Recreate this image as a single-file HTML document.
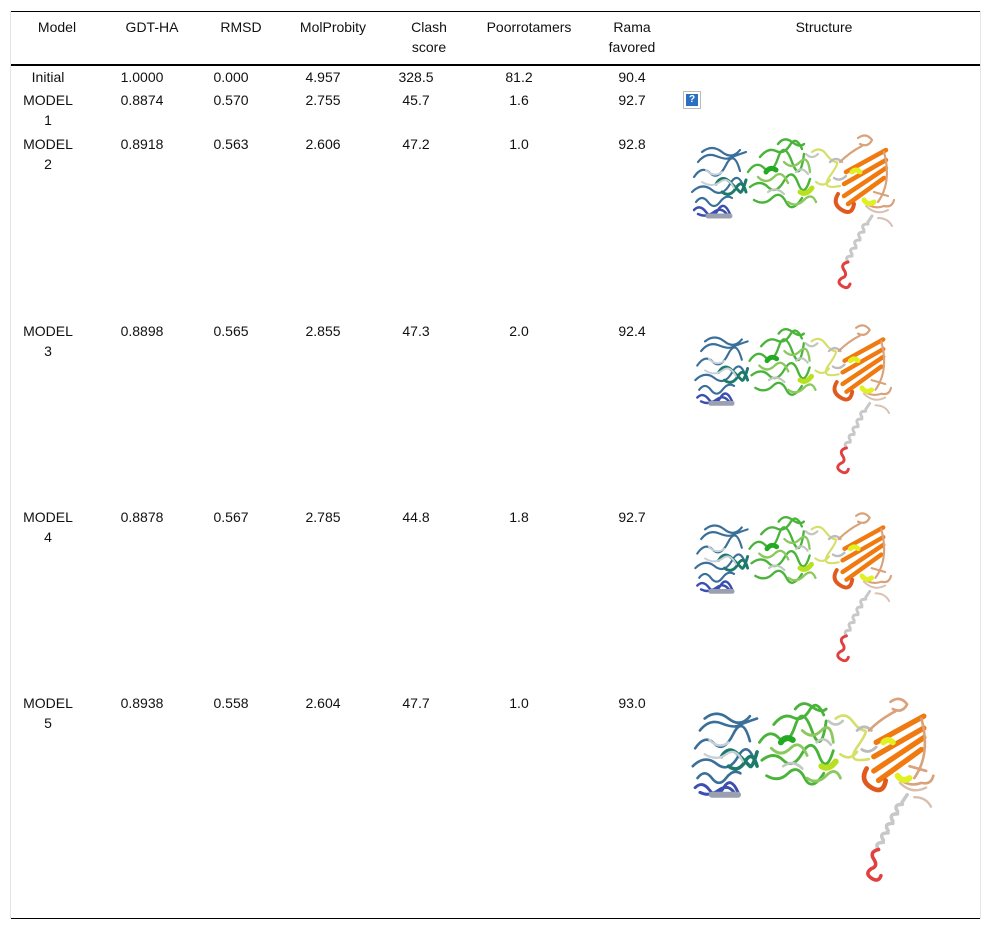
<!DOCTYPE html>
<html><head><meta charset="utf-8">
<style>
body{margin:0;background:#fff;width:992px;height:931px;position:relative;font-family:"Liberation Sans",Arial,sans-serif;font-size:14px;color:#111;overflow:hidden}
.t{position:absolute;transform:translateX(-50%);white-space:nowrap;line-height:20px;text-align:center}
.ln{position:absolute;background:#000}
svg.s{position:absolute}
</style></head><body>
<svg width="0" height="0" style="position:absolute">
<defs>
<symbol id="prot" viewBox="0 0 220 160">
<g fill="none" stroke-linecap="round" stroke-linejoin="round">
<path d="M8 70 q6-8 12 0 t12 0 t12-4 M4 60 q10-10 20-2 t18-6 t14 4 M6 45 q8-12 16-4 t16-8 t14 6 M10 30 q8-10 18-6 t14 2 t16-6 M14 20 q10-8 20 0 t18-2" stroke="#3a6f9a" stroke-width="2.2"/>
<path d="M6 78 q6-6 12 2 t12-2 t12 4 M10 82 q8 4 16-2 t14 4" stroke="#3b4fb0" stroke-width="2.5"/>
<path d="M20 84 h22" stroke="#9aa0b0" stroke-width="5"/>
<path d="M28 52 q6-10 14-2 t10 10 t6-12 M34 60 q8 6 14-4 t10 4" stroke="#1d7a6a" stroke-width="3"/>
<path d="M14 50 q10 6 18 0 t14 6 M18 38 q8 8 16 2" stroke="#c8d0d8" stroke-width="2"/>
<path d="M60 40 q8-12 16-4 t14-10 t14 4 t12-8 M62 55 q10-8 18 0 t16-6 t14 2 t12-4 M66 68 q10 6 18-2 t14 4 t16-4 M72 25 q8-10 16-6 t14-6 t12 4 M90 12 q6-8 14-2 t12 2" stroke="#4ab43a" stroke-width="2.4"/>
<path d="M70 45 q8 8 16 0 t14 6 M96 30 q8 8 16 0 t10 10 M100 70 q8 6 16-2 t12 2" stroke="#8cc860" stroke-width="2.4"/>
<path d="M78 40 q4-6 10-2" stroke="#22aa22" stroke-width="5"/>
<path d="M112 60 q6 4 12-4" stroke="#b8e020" stroke-width="5"/>
<path d="M80 60 q8-6 16 2 M108 40 q6-6 12 2 M118 22 q6 6 12 0" stroke="#c0c8c0" stroke-width="2.2"/>
<path d="M124 20 q8-6 14 2 t10 8 t-6 14 t10 10 M128 50 q8 6 14-2" stroke="#d6df6a" stroke-width="2.2"/>
<path d="M142 30 q6-6 12 0 M146 46 q6 4 12-2" stroke="#bcbcbc" stroke-width="2.4"/>
<path d="M158 40 l40-22 M156 52 l42-24 M156 64 l42-28 M160 72 l36-26" stroke="#f07a10" stroke-width="4.5"/>
<path d="M170 6 q8-6 14 2 q-4 8-12 4 M152 30 q10-10 22-16 M196 20 q8 30-6 50 M176 70 q10 8 20 4 q8 2 10-6 M186 60 l14 4" stroke="#d9a27a" stroke-width="2.2"/>
<path d="M150 62 q-6 10 4 16 t12-6" stroke="#e05a20" stroke-width="4"/>
<path d="M176 68 q4 6 10 2 M164 40 q4-4 8 0" stroke="#e0f020" stroke-width="5"/>
<path d="M178 74 q10 10 22 4 M190 86 q10 0 14 8" stroke="#d8c0b0" stroke-width="2"/>
<path d="M184 84 l-4 6 M180 92 q-8 0-4 6 M176 100 q-8 0-4 6 M172 108 q-8 0-4 6 M168 116 q-8 0-4 6 M164 124 q-8 0-4 6" stroke="#c8c8c8" stroke-width="3"/>
<path d="M160 130 q-8 2-4 8 t-2 8 q-6 4 0 8 t8-2" stroke="#e04040" stroke-width="3"/>
</g>
</symbol>
</defs>
</svg>

<div class="ln" style="left:10px;top:11px;width:971px;height:1px"></div>
<div class="ln" style="left:10px;top:64px;width:971px;height:2px"></div>
<div class="ln" style="left:10px;top:918px;width:971px;height:1px"></div>
<div style="position:absolute;left:10px;top:11px;width:1px;height:908px;background:#e4e4e4"></div>
<div style="position:absolute;left:980px;top:11px;width:1px;height:908px;background:#e4e4e4"></div>

<div class="t" style="left:57px;top:17px">Model</div>
<div class="t" style="left:152px;top:17px">GDT-HA</div>
<div class="t" style="left:241px;top:17px">RMSD</div>
<div class="t" style="left:333px;top:17px">MolProbity</div>
<div class="t" style="left:429px;top:17px">Clash<br>score</div>
<div class="t" style="left:529px;top:17px">Poorrotamers</div>
<div class="t" style="left:632px;top:17px">Rama<br>favored</div>
<div class="t" style="left:824px;top:17px">Structure</div>

<div id="rows"></div>

<div style="position:absolute;left:683px;top:91px;width:18px;height:18px;border:1px solid #bbb;box-sizing:border-box;background:#fff">
<div style="position:absolute;left:2px;top:2px;width:12px;height:12px;background:#2a6fc0;color:#fff;font-size:10px;line-height:12px;text-align:center;font-weight:bold">?</div></div>

<svg class="s" style="left:688px;top:132px" width="220" height="160"><use href="#prot"/></svg>
<svg class="s" style="left:688px;top:322px" width="220" height="155"><use href="#prot"/></svg>
<svg class="s" style="left:688px;top:510px" width="220" height="155"><use href="#prot"/></svg>
<svg class="s" style="left:688px;top:694px" width="262" height="192"><use href="#prot"/></svg>

<script>
const models=["Initial","MODEL 1","MODEL 2","MODEL 3","MODEL 4","MODEL 5"];
const gdt=["1.0000","0.8874","0.8918","0.8898","0.8878","0.8938"];
const rmsd=["0.000","0.570","0.563","0.565","0.567","0.558"];
const molp=["4.957","2.755","2.606","2.855","2.785","2.604"];
const clash=["328.5","45.7","47.2","47.3","44.8","47.7"];
const poor=["81.2","1.6","1.0","2.0","1.8","1.0"];
const rama=["90.4","92.7","92.8","92.4","92.7","93.0"];
const rowTop=[67,90,134,321,507,693];
const cols=[[48,models,"model"],[142,gdt,"gdt-ha"],[231,rmsd,"rmsd"],[323,molp,"molprobity"],[416,clash,"clash-score"],[519,poor,"poorrotamers"],[632,rama,"rama-favored"]];
const host=document.getElementById('rows');
models.forEach((m,i)=>{
  cols.forEach(([x,arr,nm])=>{
    const d=document.createElement('div');
    d.className='t';
    d.style.left=x+'px';d.style.top=rowTop[i]+'px';
    let v=arr[i];
    if(nm==='model'&&v.startsWith('MODEL')) v=v.replace(' ','<br>');
    d.innerHTML=v;
    
    
    host.appendChild(d);
  });
});
</script>
</body></html>
